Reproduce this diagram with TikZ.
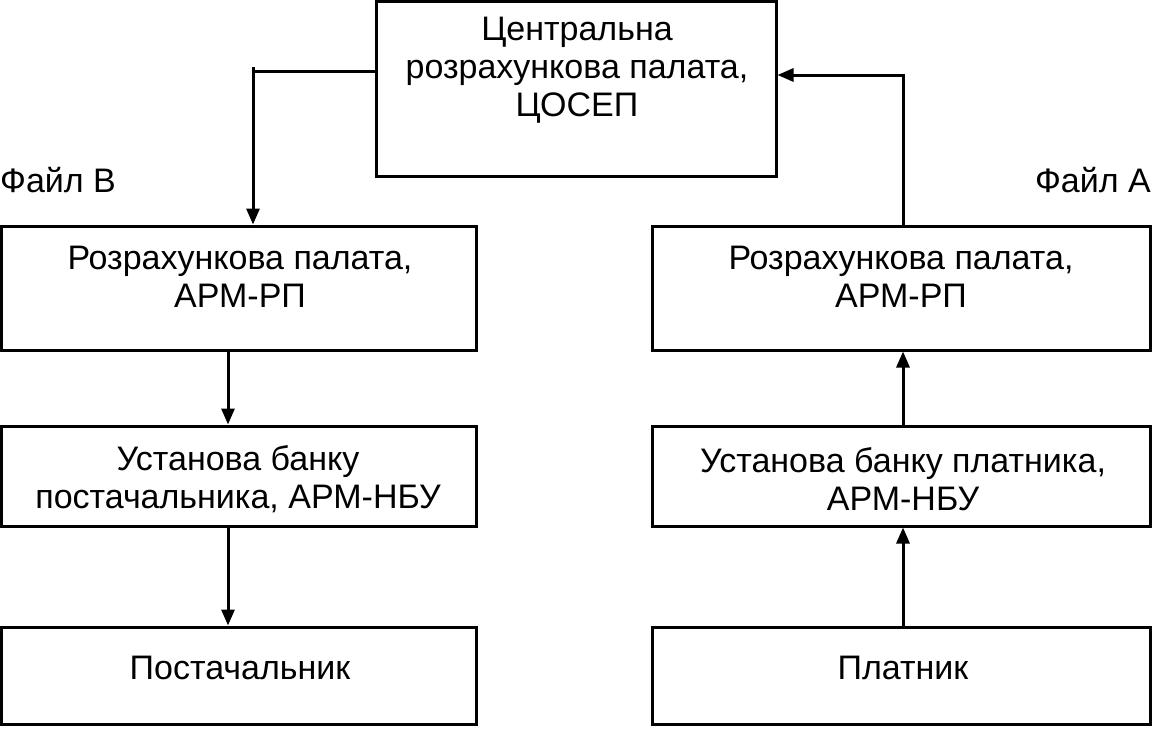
\documentclass[tikz,border=0pt]{standalone}
\usepackage{fontspec}
\setmainfont{Liberation Sans}
\usetikzlibrary{arrows.meta}
\begin{document}
\begin{tikzpicture}[x=1pt,y=-1pt,
  box/.style={draw=black,line width=3pt,inner sep=0pt},
  txt/.style={font=\fontsize{34}{38}\selectfont,align=center,inner sep=0pt},
  conn/.style={line width=3pt,-{Triangle[length=16pt,width=13pt]}},
  plain/.style={line width=3pt}]
\useasboundingbox (0,0) rectangle (1153,728);
% boxes
\node[box,minimum width=400pt,minimum height=175pt] (top) at (576,88.5) {};
\node[box,minimum width=474.5pt,minimum height=124pt] (l1) at (238.75,288) {};
\node[box,minimum width=474.5pt,minimum height=100pt] (l2) at (238.75,476) {};
\node[box,minimum width=474.5pt,minimum height=97.5pt] (l3) at (238.75,675.75) {};
\node[box,minimum width=498pt,minimum height=124pt] (r1) at (901,288) {};
\node[box,minimum width=498pt,minimum height=100pt] (r2) at (901,476) {};
\node[box,minimum width=498pt,minimum height=97.5pt] (r3) at (901,675.75) {};
% texts
\node[txt] (ttop) at (577,70) {Центральна\\розрахункова палата,\\ЦОСЕП};
\node[txt] (tl1) at (240,277) {Розрахункова палата,\\АРМ-РП};
\node[txt] (tl2) at (238,479) {Установа банку\\постачальника, АРМ-НБУ};
\node[txt] (tl3) at (240,668) {Постачальник};
\node[txt] (tr1) at (901,277) {Розрахункова палата,\\АРМ-РП};
\node[txt] (tr2) at (903,479) {Установа банку платника,\\АРМ-НБУ};
\node[txt] (tr3) at (903,668) {Платник};
\node[txt,anchor=west] (fb) at (0,180) {Файл В};
\node[txt,anchor=east] (fa) at (1151,180) {Файл А};
% connectors
\coordinate (lk) at (253,71);
\coordinate (lt) at (253,67);
\draw[plain] (top.west |- lk) -- (lk);
\draw[conn] (lt) -- (lt |- l1.north);
\draw[conn] (228,350) coordinate (a1) -- (a1 |- l2.north);
\draw[conn] (228,526) coordinate (a2) -- (a2 |- l3.north);
\coordinate (rk) at (903,75);
\draw[conn] (r1.north -| rk) -- (rk) -- (rk -| top.east);
\draw[conn] (r2.north -| rk) -- (rk |- r1.south);
\draw[conn] (r3.north -| rk) -- (rk |- r2.south);
\end{tikzpicture}
\end{document}
